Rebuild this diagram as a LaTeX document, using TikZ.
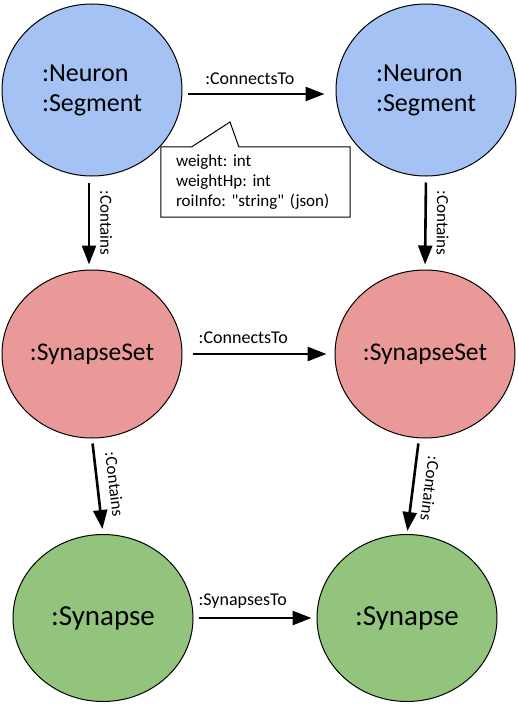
\documentclass[tikz,border=0pt]{standalone}
\usepackage{fontspec}
\setmainfont{Carlito}[Ligatures=TeXOff]
\usetikzlibrary{shapes.geometric,arrows.meta}
\frenchspacing

\definecolor{neuronblue}{RGB}{164,194,244}
\definecolor{setred}{RGB}{234,153,153}
\definecolor{synapsegreen}{RGB}{147,196,125}

\tikzset{
	entity/.style={shape=ellipse, draw=black, line width=1pt, minimum width=180pt, inner sep=0pt},
	rel/.style={-{Triangle[length=19pt,width=14pt]}, line width=2.6pt},
	rellabel/.style={font=\fontsize{18}{20}\selectfont, inner sep=2pt},
	containslabel/.style={font=\fontsize{17}{20}\selectfont, inner sep=2pt, sloped, allow upside down, above=8pt},
}

\begin{document}
\begin{tikzpicture}[x=1pt,y=-1pt]
	\useasboundingbox (0,0) rectangle (517,706);
	
	\node[entity, fill=neuronblue, minimum height=172pt, align=left, font=\fontsize{26}{30}\selectfont] (na) at (92, 90)  {:Neuron\\:Segment};
	\node[entity, fill=neuronblue, minimum height=172pt, align=left, font=\fontsize{26}{30}\selectfont] (nb) at (426, 90) {:Neuron\\:Segment};
	\node[entity, fill=setred, minimum height=168pt, font=\fontsize{25.5}{28}\selectfont] (sa) at (92, 354)  {:SynapseSet};
	\node[entity, fill=setred, minimum height=168pt, font=\fontsize{25.5}{28}\selectfont] (sb) at (425, 354) {:SynapseSet};
	\node[entity, fill=synapsegreen, minimum height=167pt, font=\fontsize{29}{32}\selectfont] (ya) at (103, 618) {:Synapse};
	\node[entity, fill=synapsegreen, minimum height=167pt, font=\fontsize{29}{32}\selectfont] (yb) at (407, 618) {:Synapse};
	
	\path ([yshift=-4pt]na.east) edge[rel, shorten <=5pt, shorten >=11pt] node[rellabel, above=6pt, pos=0.44]{:ConnectsTo} ([yshift=-4pt]nb.west);
	\path (sa.east) edge[rel, shorten <=10pt, shorten >=8pt] node[rellabel, above=7pt, pos=0.4]{:ConnectsTo} (sb.west);
	\path (ya.east) edge[rel, shorten <=5pt, shorten >=5pt] node[rellabel, above=6pt, pos=0.4]{:SynapsesTo} (yb.west);
	
	\path ([xshift=-3pt]na.south) edge[rel, shorten <=6pt, shorten >=5pt] node[containslabel]{:Contains} ([xshift=-3pt]sa.north);
	\path (nb.south) edge[rel, shorten <=6pt, shorten >=5pt] node[containslabel]{:Contains} (sb.north);
	\path (sa.south) edge[rel, shorten <=5pt, shorten >=5pt] node[containslabel]{:Contains} (ya.north);
	\path ([xshift=-6pt]sb.south) edge[rel, shorten <=5pt, shorten >=3pt] node[containslabel]{:Contains} (yb.north);
	
	% edge properties callout
	\node[fill=white, inner xsep=15pt, inner ysep=0pt, text width=159pt, minimum height=70pt, align=left, font=\fontsize{17}{20}\selectfont] (props) at (255.5, 182) {weight: int\\weightHp: int\\roiInfo: "string" (json)};
	\coordinate (tip) at (230, 122);
	\draw[line width=1pt, line join=miter] (props.north west) -- ([xshift=31pt]props.north west) -- (tip) -- ([xshift=78pt]props.north west) -- (props.north east) -- (props.south east) -- (props.south west) -- cycle;
	
\end{tikzpicture}
\end{document}
